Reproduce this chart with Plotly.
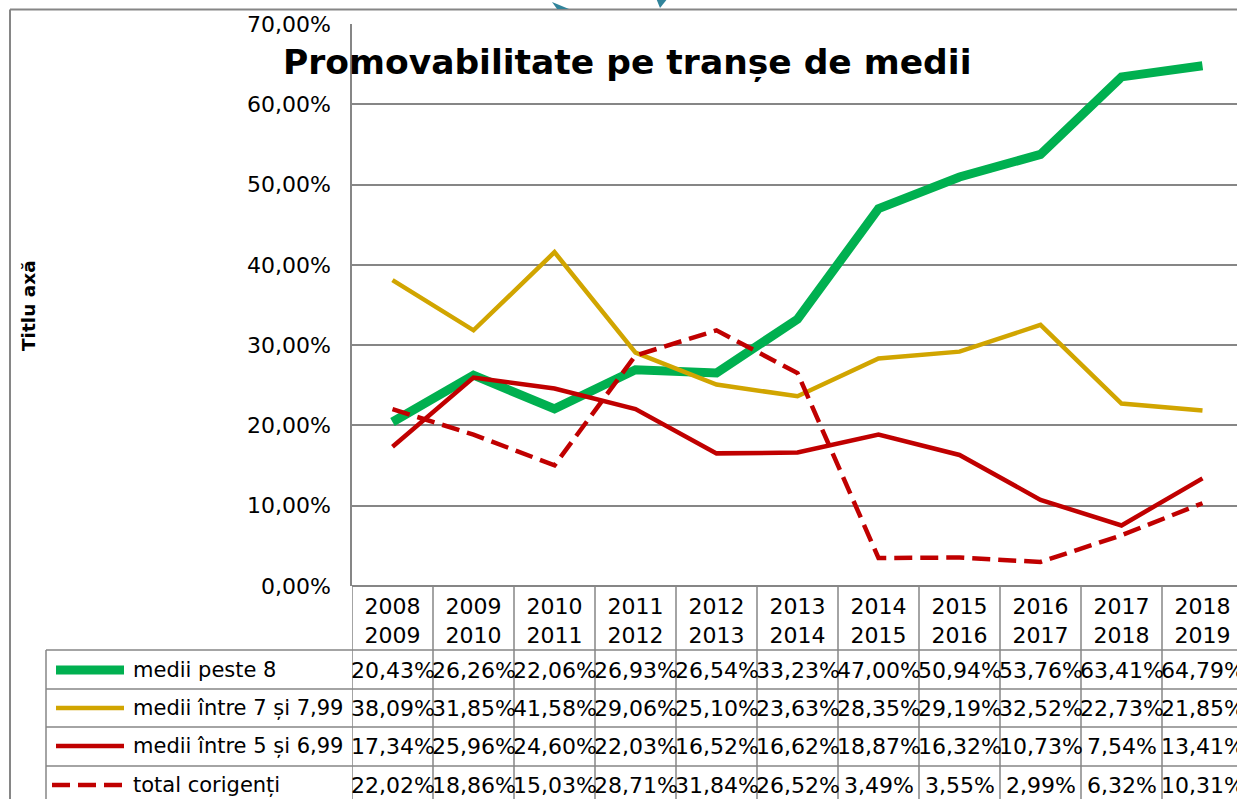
import plotly.graph_objects as go

W, H = 1237, 799

categories = ["2008<br>2009", "2009<br>2010", "2010<br>2011", "2011<br>2012", "2012<br>2013",
              "2013<br>2014", "2014<br>2015", "2015<br>2016", "2016<br>2017", "2017<br>2018",
              "2018<br>2019"]
peste_8 = [20.43, 26.26, 22.06, 26.93, 26.54, 33.23, 47.00, 50.94, 53.76, 63.41, 64.79]
intre_7_799 = [38.09, 31.85, 41.58, 29.06, 25.10, 23.63, 28.35, 29.19, 32.52, 22.73, 21.85]
intre_5_699 = [17.34, 25.96, 24.60, 22.03, 16.52, 16.62, 18.87, 16.32, 10.73, 7.54, 13.41]
total_corigenti = [22.02, 18.86, 15.03, 28.71, 31.84, 26.52, 3.49, 3.55, 2.99, 6.32, 10.31]

series_names = ["medii peste 8", "medii între 7 și 7,99", "medii între 5 și 6,99", "total corigenți"]
series_values = [peste_8, intre_7_799, intre_5_699, total_corigenti]
colors = ["#00B050", "#D1A500", "#C00000", "#C00000"]
widths = [9, 4.5, 4.5, 4.5]
dashes = ["solid", "solid", "solid", "18px,8px"]

FONT = "DejaVu Sans"
GRID = "#868686"

def xp(px):
    return px / W

def yp(py):
    return 1 - py / H

PLOT_L, PLOT_T, PLOT_B = 352, 24, 586
COLW = 81.0

fig = go.Figure()
x_idx = list(range(len(categories)))
for name, vals, c, w, d in zip(series_names, series_values, colors, widths, dashes):
    fig.add_trace(go.Scatter(x=x_idx, y=vals, mode="lines", name=name,
                             line=dict(color=c, width=w, dash=d, shape="linear"),
                             showlegend=False, hoverinfo="x+y"))

fig.update_layout(
    width=W, height=H,
    margin=dict(l=0, r=0, t=0, b=0, autoexpand=False),
    paper_bgcolor="white", plot_bgcolor="white",
    separators=",.",
    font=dict(family=FONT, color="black"),
    xaxis=dict(domain=[xp(PLOT_L), 1], range=[-0.5, -0.5 + (W - PLOT_L) / COLW],
               tickmode="array", tickvals=x_idx, ticktext=categories,
               tickfont=dict(size=22, family=FONT), ticks="outside", ticklen=0.5,
               tickcolor="rgba(0,0,0,0)", showgrid=False, zeroline=False,
               showline=False, fixedrange=True, automargin=False),
    yaxis=dict(domain=[yp(PLOT_B), yp(PLOT_T)], range=[0, 70], dtick=10, tick0=0,
               tickformat=".2f", ticksuffix="%", tickfont=dict(size=22, family=FONT),
               ticks="outside", ticklen=15, tickcolor="rgba(0,0,0,0)",
               showgrid=True, gridcolor=GRID, gridwidth=1.5,
               zeroline=True, zerolinecolor=GRID, zerolinewidth=1.5,
               showline=True, linecolor=GRID, linewidth=1.5, fixedrange=True,
               automargin=False),
)

shapes = []
line_style = dict(color=GRID, width=1.5)
# outer chart frame (cropped)
shapes.append(dict(type="line", xref="paper", yref="paper", x0=xp(10), x1=1.01, y0=yp(9.5), y1=yp(9.5), line=dict(color=GRID, width=2)))
shapes.append(dict(type="line", xref="paper", yref="paper", x0=xp(10), x1=xp(10), y0=yp(9.5), y1=-0.01, line=dict(color=GRID, width=2)))
# data table vertical column lines
for i in range(len(categories) + 1):
    shapes.append(dict(type="line", xref="x", yref="paper", x0=i - 0.5, x1=i - 0.5,
                       y0=yp(PLOT_B), y1=-0.01, line=line_style))
# data table horizontal lines
row_lines = [650, 689, 727, 766]
for ry in row_lines:
    shapes.append(dict(type="line", xref="paper", yref="paper", x0=xp(46), x1=1.01,
                       y0=yp(ry), y1=yp(ry), line=line_style))
shapes.append(dict(type="line", xref="paper", yref="paper", x0=xp(46), x1=xp(46),
                   y0=yp(650), y1=-0.01, line=line_style))

# legend keys + values
row_centers = [670, 708, 746, 785]
annotations = []
for r, (name, vals, c, w, d) in enumerate(zip(series_names, series_values, colors, widths, dashes)):
    cy = row_centers[r]
    if d == "solid":
        shapes.append(dict(type="line", xref="paper", yref="paper", x0=xp(56), x1=xp(124),
                           y0=yp(cy), y1=yp(cy), line=dict(color=c, width=w)))
    else:
        for seg in [(52, 70), (78, 96), (104, 122)]:
            shapes.append(dict(type="line", xref="paper", yref="paper", x0=xp(seg[0]), x1=xp(seg[1]),
                               y0=yp(cy), y1=yp(cy), line=dict(color=c, width=w)))
    annotations.append(dict(xref="paper", yref="paper", x=xp(131), y=yp(cy), text=name,
                            showarrow=False, xanchor="left", yanchor="middle",
                            font=dict(size=21, family=FONT, color="black")))
    for i, v in enumerate(vals):
        annotations.append(dict(xref="x", yref="paper", x=i, y=yp(cy),
                                text=f"{v:.2f}".replace(".", ",") + "%",
                                showarrow=False, xanchor="center", yanchor="middle",
                                font=dict(size=22, family=FONT, color="black")))

# title
annotations.append(dict(xref="paper", yref="paper", x=xp(627), y=yp(62),
                        text="<b>Promovabilitate pe tranșe de medii</b>", showarrow=False,
                        xanchor="center", yanchor="middle",
                        font=dict(size=34.5, family=FONT, color="black")))
# axis title
annotations.append(dict(xref="paper", yref="paper", x=xp(28), y=yp(305),
                        text="<b>Titlu axă</b>", showarrow=False, textangle=-90,
                        xanchor="center", yanchor="middle",
                        font=dict(size=18.5, family=FONT, color="black")))

# small decorative teal arrow fragments at the top (cropped)
def pth(points):
    return "M " + " L ".join(f"{xp(a)},{yp(b)}" for a, b in points) + " Z"
shapes.append(dict(type="path", xref="paper", yref="paper", path=pth([(552, 2), (569, 9), (557, 9)]),
                   fillcolor="#31849B", line=dict(width=0)))
shapes.append(dict(type="path", xref="paper", yref="paper", path=pth([(656, -2), (668, -2), (660, 8)]),
                   fillcolor="#31849B", line=dict(width=0)))

fig.update_layout(shapes=shapes, annotations=annotations)
fig.write_html("out.html", config={"displayModeBar": False},
               post_script="document.body.style.margin='0';document.body.style.overflow='hidden';")
